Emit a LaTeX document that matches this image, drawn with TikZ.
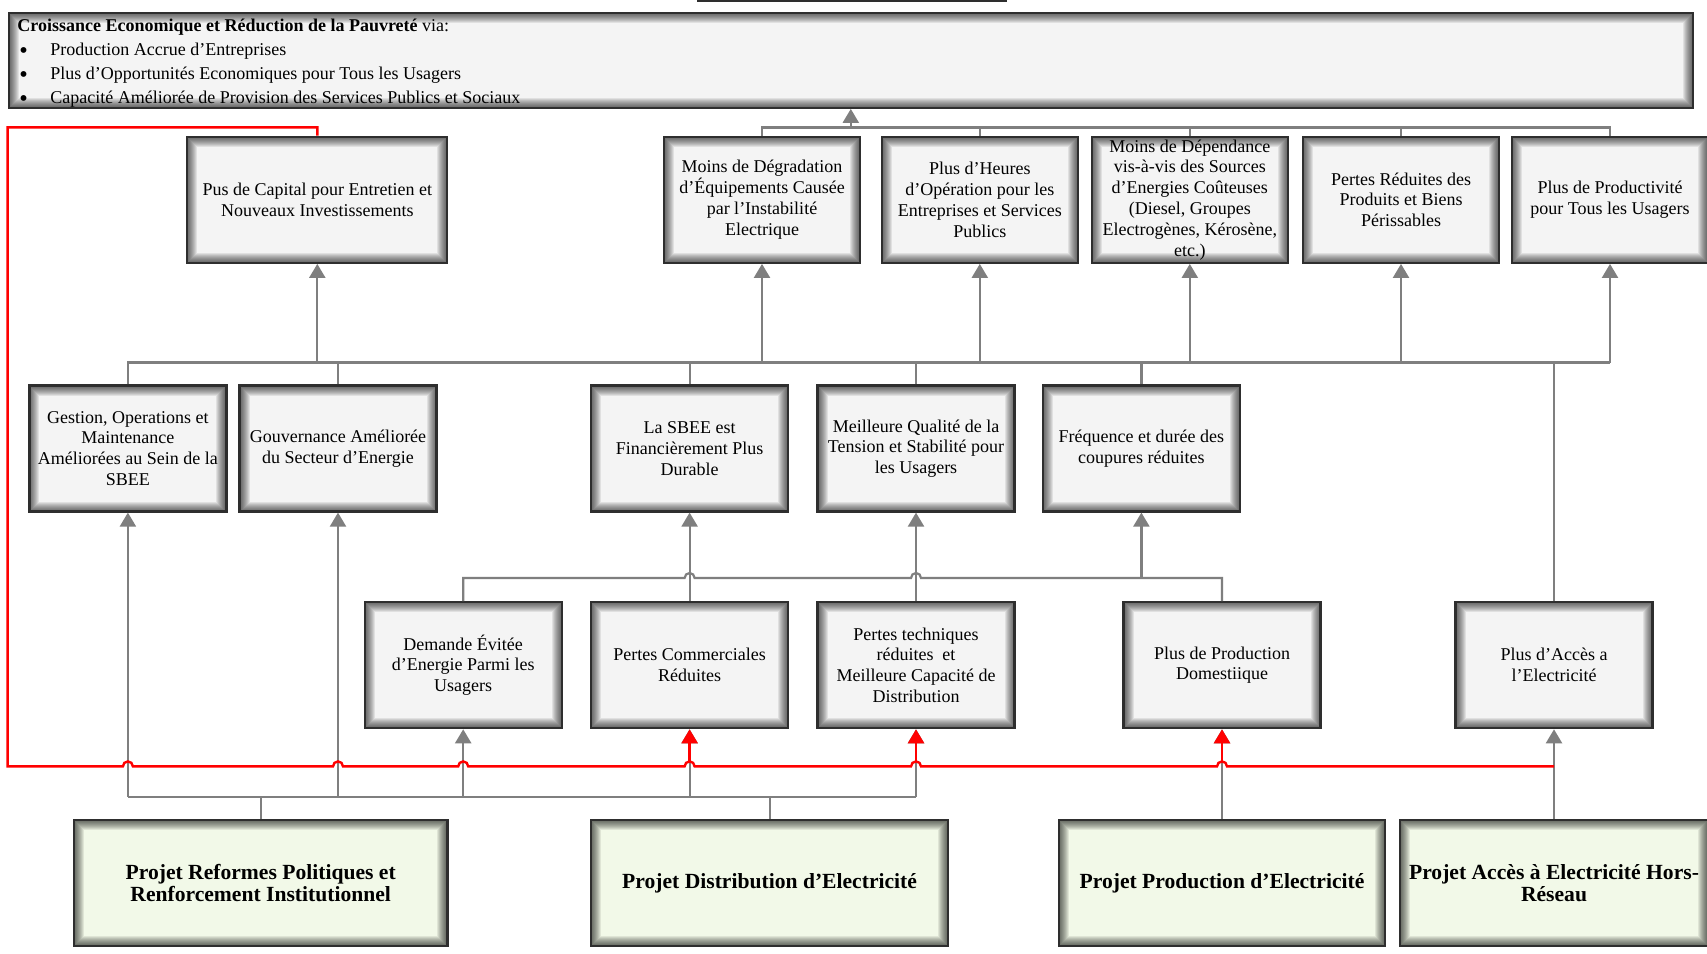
\documentclass[tikz,border=0pt]{standalone}
\usepackage{fontspec}
\setmainfont{Liberation Serif}
\usetikzlibrary{arrows.meta,calc}
\definecolor{boxgray}{HTML}{F4F4F4}
\definecolor{boxgreen}{HTML}{F2F9E8}
\definecolor{linkgray}{HTML}{7F7F7F}
\definecolor{edgedark}{HTML}{2E2E2E}
\newcommand{\blt}{\hspace*{1pt}\makebox[15.5pt][l]{\raisebox{-1.3pt}{\scalebox{1.35}{•}}}}

\begin{document}
\begin{tikzpicture}[x=0.5pt,y=-0.5pt,
  inshade/.style={path picture={
      \foreach \w in {1,...,10}{
        \draw[black,opacity=0.08,line width=\w pt]
          (path picture bounding box.south west) rectangle (path picture bounding box.north east);}}},
  box/.style={draw=edgedark,line width=1.1pt,fill=boxgray,inshade,align=center,inner sep=0pt,
      minimum width=98.5pt,minimum height=63pt,font=\fontsize{9}{10.4}\selectfont},
  projbox/.style={box,fill=boxgreen,font=\bfseries\fontsize{10.8}{11}\selectfont},
  gline/.style={draw=linkgray,line width=1.1pt},
  garrow/.style={gline,-{Triangle[width=8pt,length=7pt]}},
  rline/.style={draw=red,line width=1.2pt},
  rarrow/.style={rline,-{Triangle[width=8pt,length=7pt]}},
]
\fill[white] (0,0) rectangle (1707,953);
\useasboundingbox (0,0) rectangle (1707,953);

% edge of a frame just above the page
\draw[draw=edgedark,line width=0.9pt] (697,1) -- (1007,1);

% goal
\node[box,minimum width=842pt,minimum height=47.4pt] (top) at (850.8,60.4) {};
\node[anchor=north west,inner sep=0pt,align=left,font=\fontsize{9}{12}\selectfont] (toptext) at (17,19)
  {\textbf{Croissance Economique et Réduction de la Pauvreté} via:\\
   \blt Production Accrue d’Entreprises\\
   \blt Plus d’Opportunités Economiques pour Tous les Usagers\\
   \blt Capacité Améliorée de Provision des Services Publics et Sociaux};

% first row of outcomes
\node[box,minimum width=130pt] (A) at (317.3,199.8) {Pus de Capital pour Entretien et\\Nouveaux Investissements};
\node[box,minimum width=98pt] (B) at (762,199.8) {Moins de Dégradation\\d’Équipements Causée\\par l’Instabilité\\Electrique};
\node[box,minimum width=98pt] (C) at (979.8,199.8) {Plus d’Heures\\d’Opération pour les\\Entreprises et Services\\Publics};
\node[box,minimum width=98pt] (D) at (1189.8,199.8) {Moins de Dépendance\\vis-à-vis des Sources\\d’Energies Coûteuses\\(Diesel, Groupes\\Electrogènes, Kérosène,\\etc.)};
\node[box,minimum width=98pt] (E) at (1401,199.8) {Pertes Réduites des\\Produits et Biens\\Périssables};
\node[box,minimum width=98pt] (F) at (1610,199.8) {Plus de Productivité\\pour Tous les Usagers};

% second row
\node[box] (G) at (127.9,448.5) {Gestion, Operations et\\Maintenance\\Améliorées au Sein de la\\SBEE};
\node[box] (H) at (338,448.5) {Gouvernance Améliorée\\du Secteur d’Energie};
\node[box] (I) at (689.6,448.5) {La SBEE est\\Financièrement Plus\\Durable};
\node[box] (J) at (916,448.5) {Meilleure Qualité de la\\Tension et Stabilité pour\\les Usagers};
\node[box] (K) at (1141.4,448.5) {Fréquence et durée des\\coupures réduites};

% third row
\node[box] (L) at (463.2,665.2) {Demande Évitée\\d’Energie Parmi les\\Usagers};
\node[box] (M) at (689.6,665.2) {Pertes Commerciales\\Réduites};
\node[box] (N) at (916,665.2) {Pertes techniques\\réduites\ \ et\\Meilleure Capacité de\\Distribution};
\node[box] (O) at (1222,665.2) {Plus de Production\\Domestiique};
\node[box] (P) at (1554,665.2) {Plus d’Accès a\\l’Electricité};

% projects
\node[projbox,minimum width=186.7pt] (Q) at (260.7,882.9) {Projet Reformes Politiques et\\Renforcement Institutionnel};
\node[projbox,minimum width=178.5pt] (R) at (769.6,882.9) {Projet Distribution d’Electricité};
\node[projbox,minimum width=162.7pt] (S) at (1222,882.9) {Projet Production d’Electricité};
\node[projbox,minimum width=154pt] (T) at (1554,882.9) {Projet Accès à Electricité Hors-\\Réseau};

% bus levels
\coordinate (bus1) at (0,127.4);
\coordinate (bus2) at (0,362.5);
\coordinate (bus3) at (0,578);
\coordinate (redy) at (0,766.4);
\coordinate (bus4) at (0,796.9);
\coordinate (redx) at (7.6,0);

% first row into the goal
\draw[gline] (B.north) |- (F.north |- bus1) -- (F.north);
\foreach \n in {C,D,E} \draw[gline] (\n.north) -- (\n.north |- bus1);
\draw[garrow] (top.south |- bus1) -- (top.south);

% second row into the first row
\draw[gline] (G.north) |- (F.south |- bus2);
\foreach \n in {H,I,J,K,P} \draw[gline] (\n.north) -- (\n.north |- bus2);
\foreach \n in {A,B,C,D,E,F} \draw[garrow] (\n.south |- bus2) -- (\n.south);

% third row into the second row
\draw[gline] (L.north) |- ($(M.north |- bus3)+(-5,0)$) arc[start angle=180,end angle=360,radius=5]
  -- ($(N.north |- bus3)+(-5,0)$) arc[start angle=180,end angle=360,radius=5] -| (O.north);
\draw[garrow] (K.south |- bus3) -- (K.south);
\draw[garrow] (M.north) -- (I.south);
\draw[garrow] (N.north) -- (J.south);

% projects into the outcomes
\draw[gline] (G.south |- bus4) -- (N.south |- bus4);
\draw[gline] (Q.north) -- (Q.north |- bus4);
\draw[gline] (R.north) -- (R.north |- bus4);
\foreach \n in {G,H,L,M,N} \draw[garrow] (\n.south |- bus4) -- (\n.south);
\draw[garrow] (S.north) -- (O.south);
\draw[garrow] (T.north) -- (P.south);

% reinvested capital loop
\draw[rline] (A.north) -- (A.north |- bus1) -- (redx |- bus1) -- (redx |- redy)
  -- ($(G.south |- redy)+(-5,0)$) arc[start angle=180,end angle=360,radius=5]
  -- ($(H.south |- redy)+(-5,0)$) arc[start angle=180,end angle=360,radius=5]
  -- ($(L.south |- redy)+(-5,0)$) arc[start angle=180,end angle=360,radius=5]
  -- ($(M.south |- redy)+(-5,0)$) arc[start angle=180,end angle=360,radius=5]
  -- ($(N.south |- redy)+(-5,0)$) arc[start angle=180,end angle=360,radius=5]
  -- ($(O.south |- redy)+(-5,0)$) arc[start angle=180,end angle=360,radius=5]
  -- (P.south |- redy);
\foreach \n in {M,N,O} \draw[rarrow] ($(\n.south |- redy)+(0,-5)$) -- (\n.south);
\end{tikzpicture}
\end{document}
